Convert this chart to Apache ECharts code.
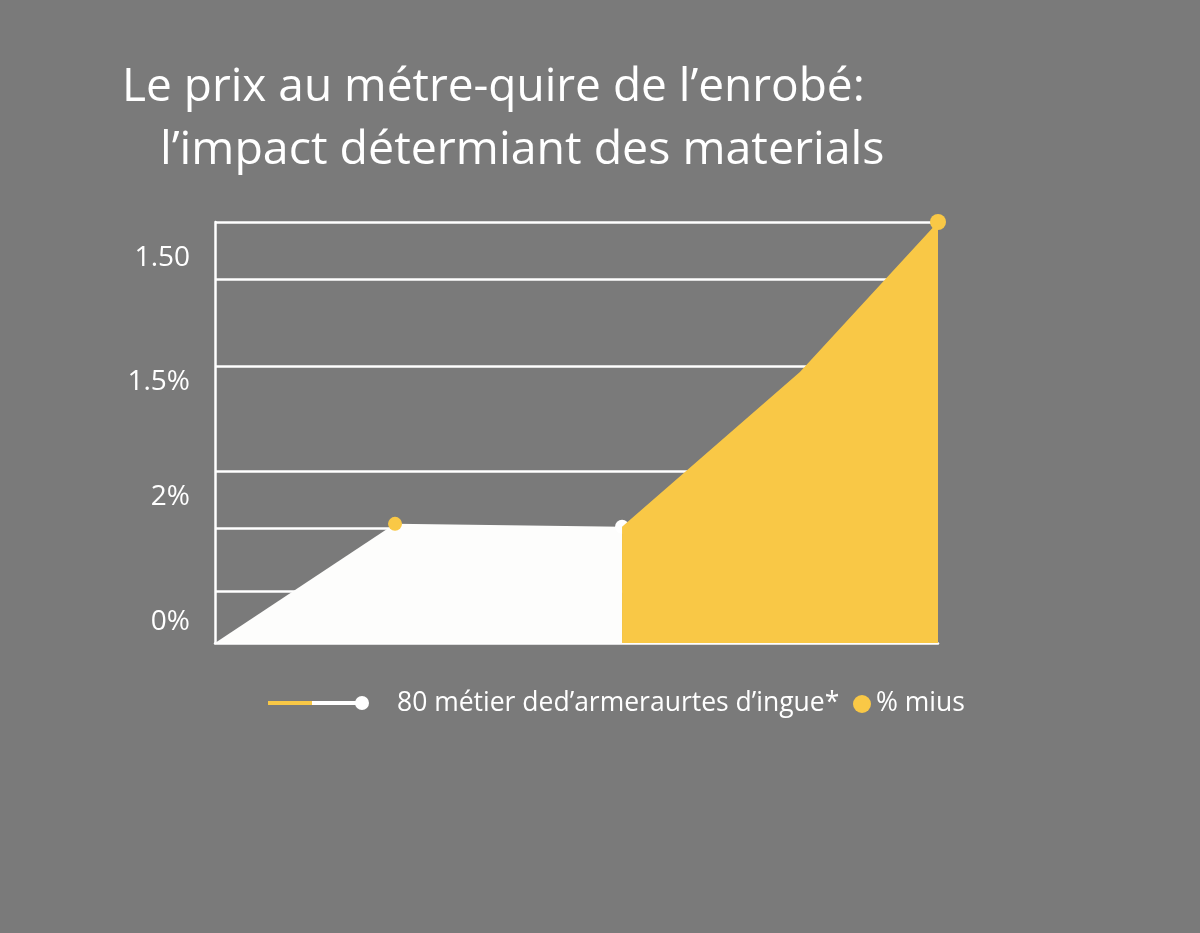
<!DOCTYPE html>
<html>
<head>
<meta charset="utf-8">
<script src="https://cdn.jsdelivr.net/npm/echarts@6/dist/echarts.min.js"></script>
<style>
html,body{margin:0;padding:0;background:#7a7a7a;}
#chart{width:1200px;height:933px;}
</style>
</head>
<body>
<div id="chart"></div>
<script>
// data, in axis units (0..100 on both axes)
var whitePoints = [[0, 0], [24.9, 28.3], [56.3, 27.6]];
var yellowPoints = [[56.3, 27.6], [80.9, 64.4], [100, 100]];
var gridValues = [100, 86.5, 65.8, 40.9, 27.3, 12.4];
var tickValues = [5, 34.7, 62, 91.4];
var tickLabels = ['0%', '2%', '1.5%', '1.50'];

var yellow = '#f9c846';
var white = '#ffffff';
var font = 'Open Sans';

var chart = echarts.init(document.getElementById('chart'));

var gridLines = [];
for (var i = 0; i < gridValues.length; i++) {
  gridLines.push({ yAxis: gridValues[i] });
}

var option = {
  backgroundColor: '#7a7a7a',
  animation: false,
  title: [{
    text: 'Le prix au métre-quire de l\u2019enrobé:',
    left: 117, top: 60,
    textStyle: { color: white, fontFamily: font, fontSize: 46, fontWeight: 'normal' }
  }, {
    text: 'l\u2019impact détermiant des materials',
    left: 155, top: 122,
    textStyle: { color: white, fontFamily: font, fontSize: 46.5, fontWeight: 'normal' }
  }],
  grid: { left: 215, right: 262, top: 222, bottom: 290 },
  xAxis: {
    type: 'value', min: 0, max: 100,
    axisLine: { show: true, lineStyle: { color: white, width: 2.5 } },
    axisTick: { show: false },
    axisLabel: { show: false },
    splitLine: { show: false }
  },
  yAxis: {
    type: 'value', min: 0, max: 100,
    axisLine: { show: true, lineStyle: { color: white, width: 2.5 } },
    axisTick: { show: false },
    splitLine: { show: false },
    axisLabel: {
      customValues: tickValues,
      margin: 25,
      color: white, fontFamily: font, fontSize: 28,
      formatter: function (v) {
        var idx = tickValues.indexOf(v);
        return idx >= 0 ? tickLabels[idx] : '';
      }
    }
  },
  series: [{
    type: 'line', z: 1, silent: true,
    data: [],
    markLine: {
      silent: true, z: 1, symbol: 'none',
      label: { show: false },
      lineStyle: { color: white, width: 2.5, type: 'solid' },
      data: gridLines
    }
  }, {
    name: 'white', type: 'line', z: 3,
    data: whitePoints,
    lineStyle: { width: 0 },
    areaStyle: { color: '#fdfdfc', opacity: 1 },
    symbol: 'circle', symbolSize: 14,
    itemStyle: { color: yellow },
    showSymbol: true,
    label: { show: false }
  }, {
    name: 'yellow', type: 'line', z: 4,
    data: yellowPoints,
    lineStyle: { width: 0 },
    areaStyle: { color: yellow, opacity: 1 },
    symbol: 'circle', symbolSize: 16,
    itemStyle: { color: yellow }
  }],
  graphic: [
    { type: 'line', shape: { x1: 268, y1: 703, x2: 312, y2: 703 }, style: { stroke: yellow, lineWidth: 4 } },
    { type: 'line', shape: { x1: 312, y1: 703, x2: 360, y2: 703 }, style: { stroke: white, lineWidth: 4 } },
    { type: 'circle', shape: { cx: 362, cy: 703, r: 7 }, style: { fill: white } },
    { type: 'text', left: 397, top: 690, style: { text: '80 métier ded\u2019armeraurtes d\u2019ingue*', fill: white, font: '26.5px "Open Sans"' } },
    { type: 'circle', shape: { cx: 862, cy: 704, r: 9 }, style: { fill: yellow } },
    { type: 'text', left: 876, top: 690, style: { text: '% mius', fill: white, font: '26.5px "Open Sans"' } }
  ]
};

chart.setOption(option);

// point markers: the first white one is yellow, the second white, the origin hidden
chart.setOption({
  series: [{}, {
    data: [
      { value: whitePoints[0], symbolSize: 0 },
      { value: whitePoints[1] },
      { value: whitePoints[2], itemStyle: { color: white } }
    ]
  }, {
    data: [
      { value: yellowPoints[0], symbolSize: 0 },
      { value: yellowPoints[1], symbolSize: 0 },
      { value: yellowPoints[2] }
    ]
  }]
});
</script>
</body>
</html>
